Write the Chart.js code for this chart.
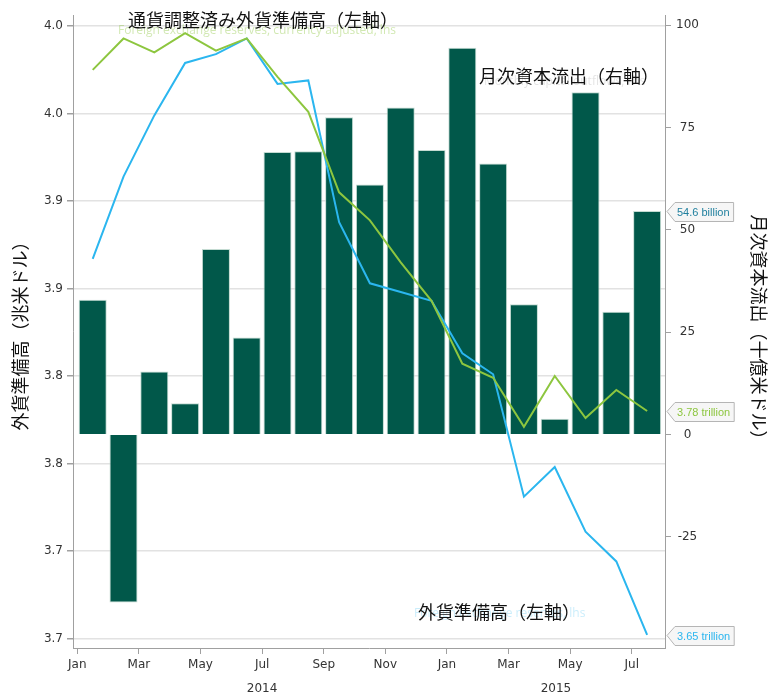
<!DOCTYPE html>
<html>
<head>
<meta charset="utf-8">
<script src="https://cdn.jsdelivr.net/npm/chart.js@4.4.1/dist/chart.umd.min.js"></script>
<style>
  body { margin: 0; background: #fff; }
  canvas { display: block; }
</style>
</head>
<body>
<canvas id="chart" width="773" height="695"></canvas>
<script>
// months, Jan 2014 .. Jul 2015
const months = ['2014-01','2014-02','2014-03','2014-04','2014-05','2014-06','2014-07','2014-08','2014-09','2014-10','2014-11','2014-12',
                '2015-01','2015-02','2015-03','2015-04','2015-05','2015-06','2015-07'];
// monthly capital outflows, $bn (rhs)
const capitalOutflows = [32.9, -41.1, 15.4, 7.6, 45.3, 23.7, 69.0, 69.2, 77.5, 61.1, 79.9, 69.5,
                         94.5, 66.2, 31.8, 3.8, 83.6, 30.0, 54.6];
// FX reserves, currency adjusted, $tn (lhs)
const reservesAdjusted = [3.975, 3.993, 3.985, 3.996, 3.986, 3.993, 3.971, 3.951, 3.905, 3.889, 3.865, 3.843,
                          3.807, 3.799, 3.771, 3.800, 3.776, 3.792, 3.780];
// FX reserves, $tn (lhs)
const reserves = [3.867, 3.914, 3.949, 3.979, 3.984, 3.993, 3.967, 3.969, 3.888, 3.853, 3.848, 3.843,
                  3.813, 3.801, 3.731, 3.748, 3.711, 3.694, 3.652];

const xTickLabels = ['Jan','Mar','May','Jul','Sep','Nov','Jan','Mar','May','Jul'];
const years = ['2014', '2015'];
const leftTicks = [3.65, 3.70, 3.75, 3.80, 3.85, 3.90, 3.95, 4.00];
const rightTicks = [-25, 0, 25, 50, 75, 100];

const BAR = '#01584a', BLUE = '#2bb6ef', GREEN = '#8dc63f';
const JP = '"Noto Sans CJK JP", sans-serif';

const pts = arr => arr.map((v, i) => ({ x: i + 0.5, y: v }));

// value tags on the right edge
const tagPlugin = {
  id: 'tags',
  afterDraw(chart) {
    const ctx = chart.ctx, area = chart.chartArea;
    const tags = [
      { ds: 0, axis: 'y1', text: v => v.toFixed(1) + ' billion', color: '#1f7f9e' },
      { ds: 1, axis: 'y', text: v => v.toFixed(2) + ' trillion', color: GREEN },
      { ds: 2, axis: 'y', text: v => v.toFixed(2) + ' trillion', color: BLUE }
    ];
    ctx.save();
    ctx.font = '11px "Liberation Sans", sans-serif';
    tags.forEach(t => {
      const data = chart.data.datasets[t.ds].data;
      const v = data[data.length - 1].y;
      const y = Math.round(chart.scales[t.axis].getPixelForValue(v)) + 0.5;
      const label = t.text(v);
      const x0 = area.right + 2, w = ctx.measureText(label).width + 14;
      ctx.beginPath();
      ctx.moveTo(x0, y);
      ctx.lineTo(x0 + 8, y - 9);
      ctx.lineTo(x0 + w, y - 9);
      ctx.lineTo(x0 + w, y + 10);
      ctx.lineTo(x0 + 8, y + 10);
      ctx.closePath();
      ctx.fillStyle = '#f6f6f6';
      ctx.fill();
      ctx.strokeStyle = '#b5b5b5';
      ctx.lineWidth = 1;
      ctx.stroke();
      ctx.fillStyle = t.color;
      ctx.textBaseline = 'middle';
      ctx.textAlign = 'left';
      ctx.fillText(label, x0 + 10, y + 1);
    });
    ctx.restore();
  }
};

// series labels and year labels
const labelPlugin = {
  id: 'labels',
  afterDraw(chart) {
    const ctx = chart.ctx, x = chart.scales.x;
    ctx.save();
    ctx.textBaseline = 'middle';

    // years under the month ticks
    ctx.font = '12px "DejaVu Sans", sans-serif';
    ctx.fillStyle = '#333';
    ctx.textAlign = 'center';
    years.forEach((y, k) => {
      const start = 12 * k, end = Math.min(12 * k + 12, x.max);
      ctx.fillText(y, x.getPixelForValue((start + end) / 2), 689);
    });

    // faded english captions
    ctx.font = '12px "Open Sans", sans-serif';
    ctx.textAlign = 'left';
    ctx.fillStyle = 'rgba(141,198,63,0.4)';
    ctx.fillText('Foreign exchange reserves, currency adjusted, lhs', 118, 31);
    ctx.fillStyle = 'rgba(43,182,239,0.25)';
    ctx.fillText('Foreign exchange reserves, lhs', 414, 614);

    ctx.fillStyle = 'rgba(255,255,255,0.9)';
    ctx.fillRect(478, 57, 187, 33);
    ctx.fillStyle = 'rgba(120,120,120,0.2)';
    ctx.fillText('Monthly capital outflows, rhs', 484, 82);

    // japanese captions
    ctx.font = '18px ' + JP;
    ctx.fillStyle = '#111';
    ctx.textAlign = 'center';
    ctx.fillText('通貨調整済み外貨準備高（左軸）', 263, 20);
    ctx.fillText('月次資本流出（右軸）', 569, 76);
    ctx.fillText('外貨準備高（左軸）', 499, 612);
    ctx.restore();
  }
};

new Chart(document.getElementById('chart'), {
  type: 'bar',
  data: {
    datasets: [{
      type: 'bar',
      label: '月次資本流出（右軸）',
      data: pts(capitalOutflows),
      yAxisID: 'y1',
      backgroundColor: BAR,
      borderColor: 'rgba(190,215,205,0.9)',
      borderWidth: 1,
      barPercentage: 0.91,
      categoryPercentage: 1,
      order: 3
    }, {
      type: 'line',
      label: '通貨調整済み外貨準備高（左軸）',
      data: pts(reservesAdjusted),
      yAxisID: 'y',
      borderColor: GREEN,
      borderWidth: 2,
      pointRadius: 0,
      tension: 0,
      order: 1
    }, {
      type: 'line',
      label: '外貨準備高（左軸）',
      data: pts(reserves),
      yAxisID: 'y',
      borderColor: BLUE,
      borderWidth: 2,
      pointRadius: 0,
      tension: 0,
      order: 2
    }]
  },
  options: {
    responsive: false,
    animation: false,
    layout: { padding: { top: 15 } },
    plugins: { legend: { display: false }, tooltip: { enabled: false } },
    scales: {
      x: {
        type: 'linear',
        offset: false,
        min: -0.14,
        max: 19.08,
        afterBuildTicks: s => { s.ticks = xTickLabels.map((l, i) => ({ value: 2 * i })); },
        afterFit: s => { s.height = 47; },
        ticks: {
          autoSkip: false, maxRotation: 0, padding: 4,
          color: '#333', font: { family: 'DejaVu Sans', size: 12 },
          callback: (v, i) => xTickLabels[i]
        },
        grid: { offset: false, drawOnChartArea: false, tickLength: 6, tickColor: '#a0a0a0' },
        border: { color: '#a0a0a0' }
      },
      y: {
        position: 'left',
        min: 3.6445,
        max: 4.0064,
        afterBuildTicks: s => { s.ticks = leftTicks.map(v => ({ value: v })); },
        afterFit: s => { s.width = 73; },
        ticks: {
          color: '#333', font: { family: 'DejaVu Sans', size: 12 }, padding: 4,
          callback: v => (Math.round(v * 10) / 10).toFixed(1)
        },
        grid: { color: '#e2e2e2', lineWidth: 1.5, tickLength: 6, tickColor: '#a0a0a0' },
        border: { color: '#a0a0a0' },
        title: {
          display: true, text: '外貨準備高（兆米ドル）', color: '#111',
          font: { family: 'Noto Sans CJK JP', size: 18 }, padding: { top: 9 }
        }
      },
      y1: {
        position: 'right',
        min: -52.2,
        max: 102.5,
        afterBuildTicks: s => { s.ticks = rightTicks.map(v => ({ value: v })); },
        afterFit: s => { s.width = 108; },
        ticks: {
          color: '#333', font: { family: 'DejaVu Sans', size: 12 }, padding: 5,
          crossAlign: 'center'
        },
        grid: { drawOnChartArea: false, tickLength: 6, tickColor: '#a0a0a0' },
        border: { color: '#a0a0a0' },
        title: {
          display: true, text: '月次資本流出（十億米ドル）', color: '#111',
          font: { family: 'Noto Sans CJK JP', size: 18 }, padding: { top: 3 }
        }
      }
    }
  },
  plugins: [tagPlugin, labelPlugin]
});
</script>
</body>
</html>
